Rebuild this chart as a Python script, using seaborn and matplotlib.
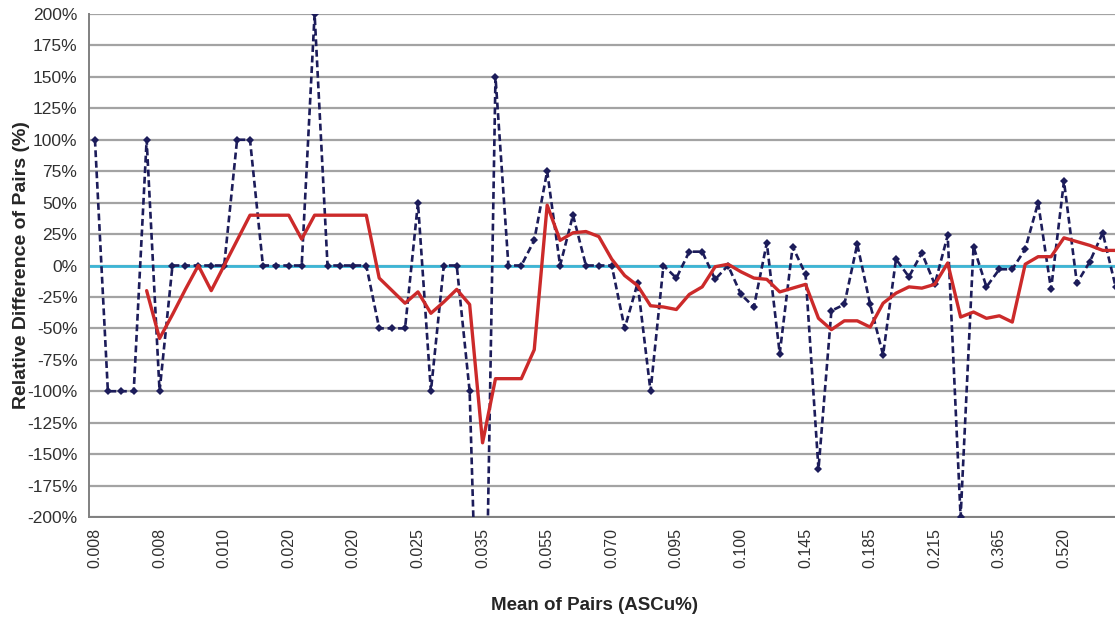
import numpy as np
import pandas as pd
import matplotlib
matplotlib.use("Agg")
import matplotlib.pyplot as plt
import seaborn as sns
from matplotlib.ticker import FuncFormatter

# relative difference of each pair (%), one value per category
pair_diff = [100, -100, -100, -100, 100, -100, 0, 0, 0, 0,
             0, 100, 100, 0, 0, 0, 0, 200, 0, 0,
             0, 0, -50, -50, -50, 50, -100, 0, 0, -100,
             -450, 150, 0, 0, 20, 75, 0, 40, 0, 0,
             0, -50, -14, -100, 0, -10, 11, 11, -11, 0,
             -23, -33, 18, -70, 15, -7, -162, -36, -31, 17,
             -31, -71, 5, -9, 10, -15, 24, -200, 15, -17,
             -3, -3, 13, 50, -19, 67, -14, 3, 26, -17]

# moving average of the relative difference (%)
moving_avg = [np.nan, np.nan, np.nan, np.nan, -20, -58, -39, -19, 0, -20,
              0, 20, 40, 40, 40, 40, 21, 40, 40, 40,
              40, 40, -10, -20, -30, -21, -38, -29, -19, -31,
              -141, -90, -90, -90, -67, 48, 20, 26, 27, 23,
              5, -8, -16, -32, -33, -35, -23, -17, -1, 1,
              -5, -10, -11, -21, -18, -15, -42, -51, -44, -44,
              -49, -30, -22, -17, -18, -15, 2, -41, -37, -42,
              -40, -45, 1, 7, 7, 22, 19, 16, 12, 12]

# category labels shown on the axis (every 5th pair)
tick_labels = ["0.008", "0.008", "0.010", "0.020", "0.020", "0.025", "0.035", "0.055",
               "0.070", "0.095", "0.100", "0.145", "0.185", "0.215", "0.365", "0.520"]
label_step = 5

df = pd.DataFrame({"pair": np.arange(len(pair_diff)),
                   "diff": pair_diff,
                   "avg": moving_avg})

sns.set_style("white")
plt.rcParams["font.family"] = ["Liberation Sans", "DejaVu Sans"]

fig = plt.figure(figsize=(11.15, 6.2), dpi=100)
ax = fig.add_axes([88.5 / 1115, 1 - 517 / 620, 1 - 88.5 / 1115, (517 - 14) / 620])

# gridlines and zero line
for v in np.arange(-200, 201, 25):
    ax.axhline(v, color="#a3a3a3", lw=1.6, zorder=0)
ax.axhline(0, color="#3cb6d6", lw=2.0, zorder=1)

sns.lineplot(data=df, x="pair", y="diff", ax=ax, color="#1c1c5a", lw=1.9,
             linestyle=(0, (2.6, 1.4)), marker="D", markersize=4.3,
             markeredgewidth=0, zorder=3)
sns.lineplot(data=df, x="pair", y="avg", ax=ax, color="#cc2a2a", lw=2.4, zorder=4)

ax.set_xlim(-0.5, 78.95)
ax.set_ylim(-200, 200)
ax.set_yticks(np.arange(-200, 201, 25))
ax.yaxis.set_major_formatter(FuncFormatter(lambda v, p: f"{v:.0f}%"))

ticks = np.arange(0, len(tick_labels) * label_step, label_step)
ax.set_xticks(ticks)
ax.set_xticklabels(tick_labels, rotation=90)
ax.set_xticks(ticks[1:] - 0.5, minor=True)
ax.tick_params(axis="x", which="major", length=0, pad=8, labelsize=11.5, labelcolor="#303030")
ax.tick_params(axis="x", which="minor", length=4, color="#808080", width=1.2)
ax.tick_params(axis="y", length=5, color="#808080", width=1.2, pad=3,
               labelsize=12.5, labelcolor="#303030")

for side in ["top", "right"]:
    ax.spines[side].set_visible(False)
for side in ["left", "bottom"]:
    ax.spines[side].set_color("#808080")
    ax.spines[side].set_linewidth(1.4)

ax.set_xlabel("Mean of Pairs (ASCu%)", fontsize=13.5, fontweight="bold")
ax.set_ylabel("Relative Difference of Pairs (%)", fontsize=14, fontweight="bold")
ax.xaxis.set_label_coords(0.4934, -0.16)
ax.yaxis.set_label_coords(-0.057, 0.5)

fig.savefig("out.png", dpi=100)
